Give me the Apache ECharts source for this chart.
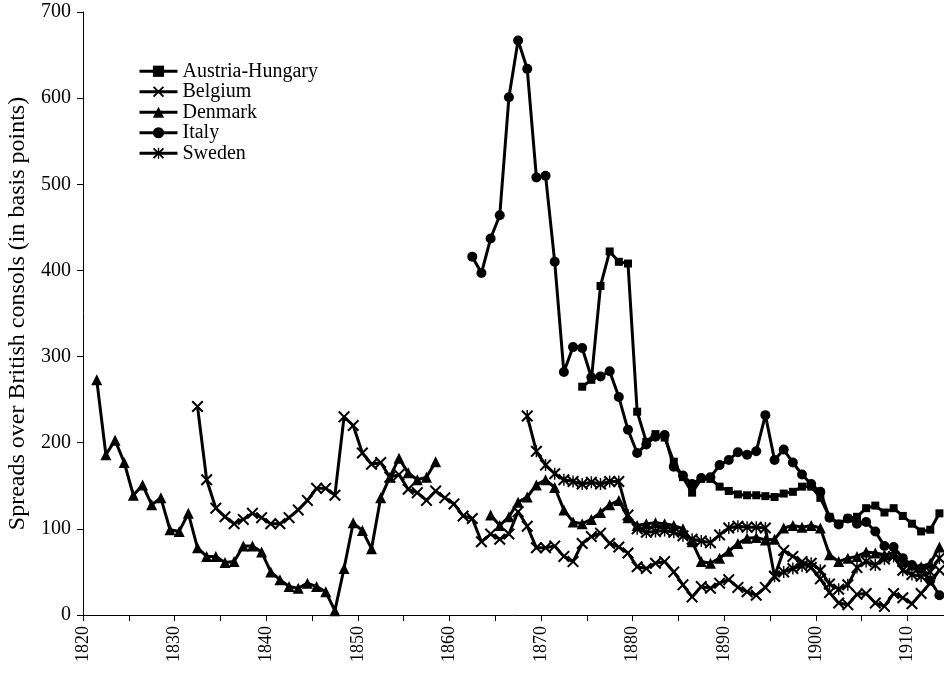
<!DOCTYPE html>
<html>
<head>
<meta charset="utf-8">
<script src="https://cdn.jsdelivr.net/npm/echarts@6/dist/echarts.min.js"></script>
<style>
  html, body { margin: 0; padding: 0; background: #fff; }
  #chart { width: 944px; height: 674px; }
</style>
</head>
<body>
<div id="chart"></div>
<script>
// ---- Data (basis points over British consols), one value per year ----
const seriesNames = ['Austria-Hungary', 'Belgium', 'Denmark', 'Italy', 'Sweden'];

const austriaStart = 1874;
const austriaValues = [
  265, 273, 382, 422, 410, 408,
  236, 201, 210, 206, 178, 160, 142, 158, 158, 149,
  144, 140, 139, 139, 138, 137, 141, 143, 149, 149,
  136, 114, 106, 112, 114, 124, 127, 119, 124, 115,
  106, 97, 99, 118
];

const belgiumStart = 1832;
const belgiumValues = [
  242, 157, 124, 114, 106, 111, 118, 113,
  106, 106, 113, 122, 133, 147, 147, 139, 230, 220,
  188, 175, 177, 160, 163, 146, 142, 133, 144, 136,
  129, 115, 112, 85, 94, 88, 94, 120, 103, 78,
  78, 80, 68, 62, 83, 91, 95, 83, 79, 72,
  56, 54, 60, 62, 50, 35, 21, 33, 31, 37,
  41, 32, 27, 23, 32, 45, 75, 68, 62, 55,
  42, 26, 14, 12, 24, 25, 14, 10, 25, 20,
  13, 25, 37, 52
];

const denmarkStart = 1821;
const denmarkValues = [
  273, 186, 203, 177, 139, 151, 128, 136, 99,
  97, 118, 78, 68, 68, 61, 62, 80, 80, 73,
  50, 41, 33, 31, 37, 33, 27, 5, 54, 107,
  98, 77, 136, 160, 182, 165, 157, 160, 178, null,
  null, null, null, null, 116, 104, 114, 131, 137, 151,
  157, 148, 122, 108, 106, 111, 119, 128, 133, 113,
  104, 106, 107, 106, 104, 100, 85, 62, 60, 66,
  74, 83, 89, 90, 87, 88, 101, 104, 102, 104,
  101, 70, 62, 66, 68, 73, 72, 70, 72, 62,
  58, 56, 60, 79
];

const italyStart = 1862;
const italyValues = [
  416, 397, 437, 464, 601, 667, 634, 508,
  510, 410, 282, 311, 310, 276, 277, 283, 253, 215,
  188, 198, 207, 209, 172, 162, 152, 159, 160, 174,
  180, 189, 186, 190, 232, 180, 192, 177, 163, 152,
  143, 113, 105, 112, 106, 108, 97, 80, 79, 66,
  58, 54, 40, 23
];

const swedenStart = 1868;
const swedenValues = [
  231, 190,
  174, 164, 157, 155, 152, 154, 152, 155, 155, 116,
  100, 96, 97, 98, 96, 92, 88, 86, 84, 93,
  101, 103, 102, 102, 101, 45, 50, 54, 57, 60,
  52, 36, 30, 35, 55, 62, 58, 65, 68, 52,
  47, 45, 50, 66
];

const xMin = 1820, xMax = 1914, xTickStep = 5, xLabelStep = 10;
const yMin = 0, yMax = 700, yStep = 100;
const yAxisTitle = 'Spreads over British consols (in basis points)';

// ---- Build chart ----
function toPoints(start, values) {
  // each annual observation is centred within its year slot
  return values.map((v, i) => [start + i + 0.5, v === null ? '-' : v]);
}

const xMark = 'path://M0,1.2L1.2,0L5,3.8L8.8,0L10,1.2L6.2,5L10,8.8L8.8,10L5,6.2L1.2,10L0,8.8L3.8,5Z';
const starMark = 'path://M0,1.2L1.2,0L5,3.8L8.8,0L10,1.2L6.2,5L10,8.8L8.8,10L5,6.2L1.2,10L0,8.8L3.8,5Z M4.4,0L5.6,0L5.6,10L4.4,10Z';

const font = "'Liberation Serif', 'Times New Roman', serif";

function mk(name, start, values, symbol, size) {
  return {
    name: name,
    type: 'line',
    data: toPoints(start, values),
    symbol: symbol,
    symbolSize: size,
    showAllSymbol: true,
    connectNulls: false,
    lineStyle: { color: '#000', width: 3 },
    itemStyle: { color: '#000', borderWidth: 0 },
    emphasis: { disabled: true },
    animation: false,
    z: 2
  };
}

const chart = echarts.init(document.getElementById('chart'), null, { renderer: 'canvas' });
chart.setOption({
  backgroundColor: '#fff',
  animation: false,
  textStyle: { fontFamily: font, color: '#000' },
  grid: { left: 83, right: 0, top: 12, bottom: 59, containLabel: false, outerBoundsMode: 'none' },
  legend: {
    orient: 'vertical',
    left: 133,
    top: 56,
    itemGap: 0,
    itemWidth: 38,
    itemHeight: 14,
    data: seriesNames,
    lineStyle: { width: 3, color: '#000' },
    textStyle: { fontFamily: font, fontSize: 20, color: '#000', lineHeight: 20.5 },
    selectedMode: false
  },
  xAxis: {
    type: 'value',
    min: xMin,
    max: xMax,
    interval: xTickStep,
    splitLine: { show: false },
    axisLine: { show: true, onZero: false, lineStyle: { color: '#000', width: 1 } },
    axisTick: { show: true, inside: false, length: 6, lineStyle: { color: '#000' } },
    axisLabel: {
      rotate: 90,
      margin: 11,
      fontFamily: font,
      fontSize: 18,
      color: '#000',
      showMaxLabel: false,
      formatter: v => (v % xLabelStep === 0 ? String(v) : '')
    }
  },
  yAxis: {
    type: 'value',
    min: yMin,
    max: yMax,
    interval: yStep,
    name: yAxisTitle,
    nameLocation: 'middle',
    nameGap: 50,
    nameRotate: 90,
    nameTextStyle: { fontFamily: font, fontSize: 24, color: '#000' },
    splitLine: { show: false },
    axisLine: { show: true, lineStyle: { color: '#000', width: 1 } },
    axisTick: { show: true, length: 6, lineStyle: { color: '#000' } },
    axisLabel: { fontFamily: font, fontSize: 20, color: '#000', margin: 12 }
  },
  series: [
    mk('Austria-Hungary', austriaStart, austriaValues, 'rect', 8),
    mk('Belgium', belgiumStart, belgiumValues, xMark, 12),
    mk('Denmark', denmarkStart, denmarkValues, 'triangle', 11),
    mk('Italy', italyStart, italyValues, 'circle', 10),
    mk('Sweden', swedenStart, swedenValues, starMark, 12)
  ]
});
</script>
</body>
</html>
